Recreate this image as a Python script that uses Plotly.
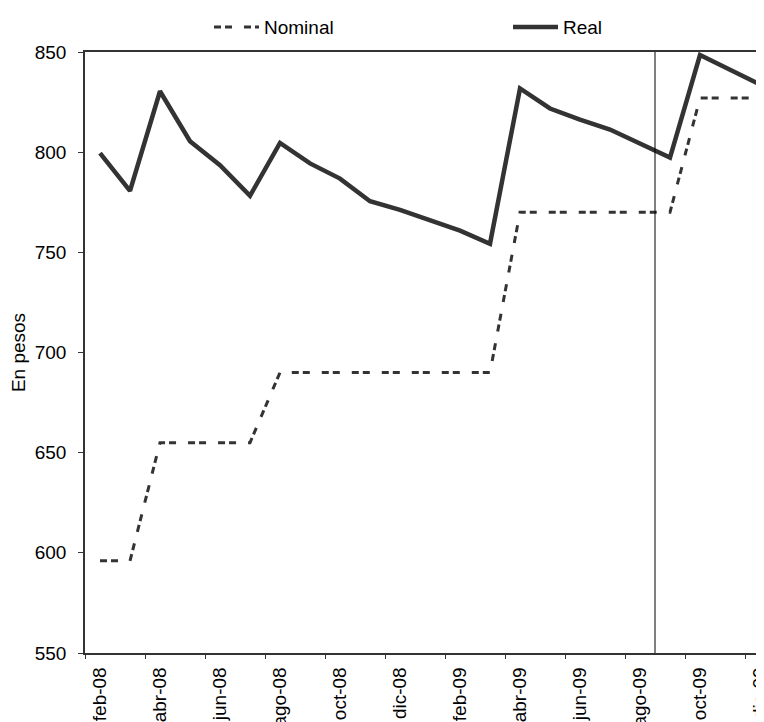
import plotly.graph_objects as go

months = ["feb-08", "mar-08", "abr-08", "may-08", "jun-08", "jul-08", "ago-08", "sep-08",
          "oct-08", "nov-08", "dic-08", "ene-09", "feb-09", "mar-09", "abr-09", "may-09",
          "jun-09", "jul-09", "ago-09", "sep-09", "oct-09", "nov-09", "dic-09"]
nominal = [596, 596, 655, 655, 655, 655, 690, 690, 690, 690, 690, 690, 690, 690,
           770, 770, 770, 770, 770, 770, 827, 827, 827]
real = [799.5, 780.7, 830.4, 805.5, 793.5, 778.2, 804.6, 794.4, 786.8, 775.5, 771.2,
        766.0, 760.8, 754.3, 831.8, 821.8, 816.2, 811.3, 804.4, 797.3, 848.5, 841.2, 833.8]
break_after = "ago-09"
y_ticks = [550, 600, 650, 700, 750, 800, 850]

idx = list(range(len(months)))
label_idx = idx[::2]
label_txt = [months[i] for i in label_idx]
boundaries = [i - 0.5 for i in label_idx]

# page body has an 8px margin; figure occupies 8..764 horizontally
W, H = 756, 714
ml, mr, mt, mb = 77, 0, 42, 69
plot_w = W - ml - mr
plot_h = H - mt - mb
x_range = [-0.5, -0.5 + plot_w / 30.0]

FS = 19
fig = go.Figure()
fig.add_trace(go.Scatter(x=idx, y=nominal, mode="lines", name="Nominal", legend="legend",
                         line=dict(color="#333333", width=3, dash="7px,4px,7px,12px")))
fig.add_trace(go.Scatter(x=idx, y=real, mode="lines", name="Real", legend="legend2",
                         line=dict(color="#333333", width=4.5)))
fig.add_trace(go.Scatter(x=[x_range[0]], y=[y_ticks[0]], xaxis="x2", mode="markers",
                         marker=dict(opacity=0), showlegend=False, hoverinfo="skip"))

bx = months.index(break_after) + 0.5
fig.add_shape(type="line", xref="x", yref="paper", x0=bx, x1=bx, y0=0, y1=1,
              line=dict(color="#000000", width=1))

font = "Arial, Liberation Sans, sans-serif"
leg_common = dict(orientation="h", y=1 + 25 / plot_h, xanchor="left", yanchor="middle",
                  itemwidth=45, font=dict(size=FS), bgcolor="rgba(0,0,0,0)")
fig.update_layout(
    width=W, height=H,
    margin=dict(l=ml, r=mr, t=mt, b=mb),
    paper_bgcolor="white", plot_bgcolor="white",
    font=dict(family=font, size=FS, color="#000000"),
    showlegend=True,
    legend=dict(x=(209 - 8 - ml) / plot_w, **leg_common),
    legend2=dict(x=(508 - 8 - ml) / plot_w, **leg_common),
    xaxis=dict(range=x_range, tickmode="array", tickvals=label_idx, ticktext=label_txt,
               tickangle=-90, ticks="", ticklen=0, ticklabelstandoff=5,
               ticklabeloverflow="allow", showgrid=False, zeroline=False,
               showline=True, linecolor="#333333", linewidth=1.5, mirror=True,
               tickfont=dict(size=FS), automargin=False),
    xaxis2=dict(range=x_range, overlaying="x", side="bottom", tickmode="array",
                tickvals=boundaries, ticks="outside", ticklen=5, tickcolor="#333333",
                tickwidth=1, showticklabels=False, showgrid=False, zeroline=False,
                showline=False),
    yaxis=dict(range=[550, 850], tickmode="array", tickvals=y_ticks,
               ticks="outside", ticklen=5, tickcolor="#333333", showgrid=False,
               zeroline=False, showline=True, linecolor="#333333", linewidth=1.5,
               tickfont=dict(size=FS), ticklabelstandoff=8,
               title=dict(text="En pesos", font=dict(size=FS), standoff=10),
               automargin=False),
)
fig.write_html("out.html")
